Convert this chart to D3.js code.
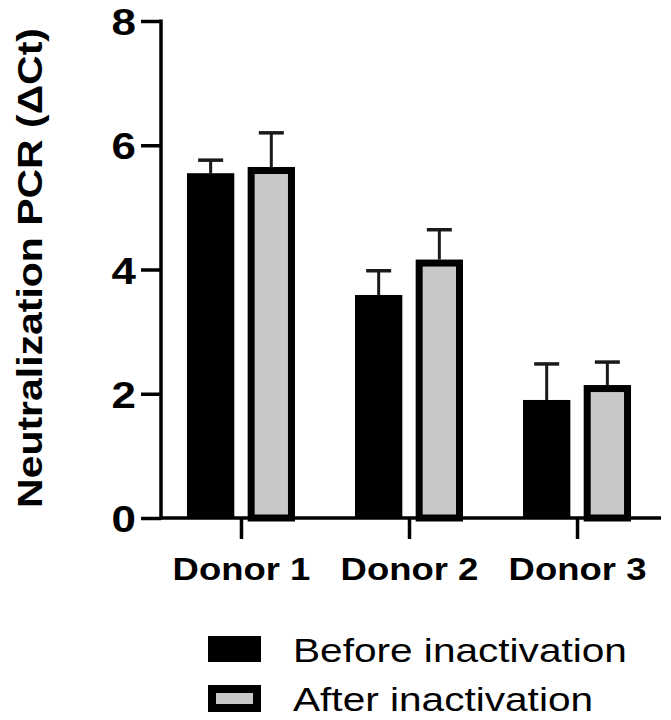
<!DOCTYPE html>
<html>
<head>
<meta charset="utf-8">
<script src="https://cdn.jsdelivr.net/npm/d3@7"></script>
<style>
  body { margin: 0; background: #fff; }
  text { font-family: "Liberation Sans", Arial, sans-serif; fill: #000; }
</style>
</head>
<body>
<svg id="container" width="671" height="720"></svg>
<script>
// values (mean and SD, delta Ct)
const donors = ["Donor 1", "Donor 2", "Donor 3"];
const series = ["Before inactivation", "After inactivation"];
const beforeMean = [5.55, 3.59, 1.90];
const beforeSD = [0.21, 0.39, 0.58];
const afterMean = [5.65, 4.16, 2.14];
const afterSD = [0.55, 0.48, 0.37];
const yTicks = [0, 2, 4, 6, 8];

const svg = d3.select('#container');

const y = d3.scaleLinear().domain([0, 8]).range([518, 21]);
const x = d3.scalePoint().domain(donors).range([161, 657]).padding(0.476);
const xs = d3.scaleBand().domain(series).range([-54, 54]).paddingInner(0.22);
const bw = xs.bandwidth();

// stretch text to the wide lettering of the original
function stretch(sel, k) {
    sel.each(function () {
        const len = this.getComputedTextLength();
        d3.select(this).attr('textLength', len * k).attr('lengthAdjust', 'spacingAndGlyphs');
    });
}

const rows = donors.map((d, i) => ({
    donor: d,
    values: [
        {s: series[0], v: beforeMean[i], sd: beforeSD[i]},
        {s: series[1], v: afterMean[i], sd: afterSD[i]}
    ]
}));

const groups = svg.selectAll('g.donor')
    .data(rows)
    .enter()
    .append('g')
    .attr('class', 'donor')
    .attr('transform', d => `translate(${x(d.donor)},0)`);

// error bars (upper only)
const err = groups.selectAll('g.err')
    .data(d => d.values)
    .enter()
    .append('g')
    .attr('class', 'err');
err.append('line')
    .attr('x1', d => xs(d.s) + bw / 2)
    .attr('x2', d => xs(d.s) + bw / 2)
    .attr('y1', d => y(d.v))
    .attr('y2', d => y(d.v + d.sd))
    .attr('stroke', '#1a1a1a')
    .attr('stroke-width', 3);
err.append('line')
    .attr('x1', d => xs(d.s) + bw / 2 - 12.5)
    .attr('x2', d => xs(d.s) + bw / 2 + 12.5)
    .attr('y1', d => y(d.v + d.sd))
    .attr('y2', d => y(d.v + d.sd))
    .attr('stroke', '#1a1a1a')
    .attr('stroke-width', 3.5);

// bars
const sw = 7;
groups.selectAll('rect.bar')
    .data(d => d.values)
    .enter()
    .append('rect')
    .attr('class', 'bar')
    .attr('x', d => xs(d.s) + (d.s === series[1] ? sw / 2 : 0))
    .attr('width', d => d.s === series[1] ? bw - sw : bw)
    .attr('y', d => y(d.v) + (d.s === series[1] ? sw / 2 : 0))
    .attr('height', d => y(0) - y(d.v) - (d.s === series[1] ? sw / 2 : 0))
    .attr('fill', d => d.s === series[1] ? '#c8c8c8' : '#000')
    .attr('stroke', d => d.s === series[1] ? '#000' : 'none')
    .attr('stroke-width', sw);

// y axis
const yAxis = svg.append('g')
    .attr('transform', 'translate(161,0)')
    .call(d3.axisLeft(y).tickValues(yTicks).tickSize(20).tickPadding(5).tickSizeOuter(0));
yAxis.select('.domain').attr('stroke-width', 3.5).attr('d', `M0,${y(8) - 1.5}V${y(0) + 1.5}`);
yAxis.selectAll('.tick line').attr('stroke-width', 3.5);
yAxis.selectAll('.tick text')
    .attr('font-size', 36)
    .attr('font-weight', 'bold')
    .attr('dy', '0.38em')
    .call(stretch, 1.22);

// x axis
const xAxis = svg.append('g')
    .attr('transform', `translate(0,${y(0)})`)
    .call(d3.axisBottom(x).tickSize(21).tickPadding(18).tickSizeOuter(0));
xAxis.select('.domain').attr('stroke-width', 3.5).attr('d', 'M159.5,0H661');
xAxis.selectAll('.tick line').attr('stroke-width', 3.5);
xAxis.selectAll('.tick text')
    .attr('font-size', 32)
    .attr('font-weight', 'bold')
    .attr('dy', '0.71em')
    .call(stretch, 1.14);

// y label
svg.append('text')
    .attr('transform', 'translate(42,268) rotate(-90)')
    .attr('text-anchor', 'middle')
    .attr('font-size', 35)
    .attr('font-weight', 'bold')
    .text('Neutralization PCR (ΔCt)')
    .call(stretch, 1.17);

// legend
const legend = svg.append('g');
const items = legend.selectAll('g')
    .data(series)
    .enter()
    .append('g')
    .attr('transform', (d, i) => `translate(208,${636 + i * 49})`);
items.append('rect')
    .attr('x', (d, i) => i ? 4 : 0)
    .attr('y', (d, i) => i ? 4 : 0)
    .attr('width', (d, i) => i ? 45 : 53)
    .attr('height', (d, i) => i ? 19 : 26)
    .attr('fill', (d, i) => i ? '#c8c8c8' : '#000')
    .attr('stroke', (d, i) => i ? '#000' : 'none')
    .attr('stroke-width', 8);
items.append('text')
    .attr('x', 85)
    .attr('y', 26)
    .attr('font-size', 33)
    .text(d => d)
    .call(stretch, 1.23);
</script>
</body>
</html>
